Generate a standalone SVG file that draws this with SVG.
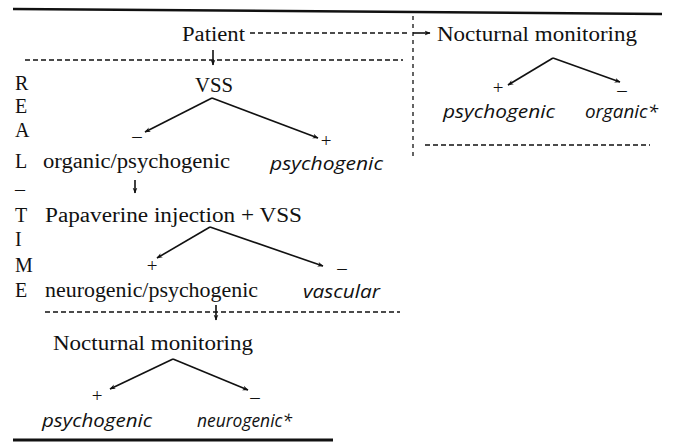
<svg xmlns="http://www.w3.org/2000/svg" width="673" height="446" viewBox="0 0 673 446">
<style>
.t{font-family:"Liberation Serif","Times New Roman",serif;font-size:20px;fill:#111}
.i{font-family:"Open Sans","DejaVu Sans",sans-serif;font-style:italic;font-size:19px;fill:#111}
.s{font-family:"Liberation Serif",serif;font-size:19px;fill:#111;text-anchor:middle}
.a{stroke:#111;stroke-width:1.6;fill:none;marker-end:url(#ah)}
.d{stroke:#111;stroke-width:1.3;fill:none;stroke-dasharray:5 3}
.dv{stroke:#111;stroke-width:1.3;fill:none;stroke-dasharray:4 4}
.r{stroke:#111;fill:none}
</style>
<defs>
<marker id="ah" viewBox="0 0 10 10" refX="9" refY="5" markerWidth="6" markerHeight="6" orient="auto" markerUnits="userSpaceOnUse">
<path d="M0,1 L10,5 L0,9 L3,5 Z" fill="#111"/>
</marker>
</defs>
<rect width="673" height="446" fill="#fff"/>
<g id="rules">
<line class="r" x1="13" y1="9" x2="662" y2="14" stroke-width="2.5"/>
<line class="r" x1="13" y1="440" x2="333" y2="440" stroke-width="3"/>
<line class="dv" x1="413" y1="16" x2="413" y2="158"/>
<line class="d" x1="25" y1="60" x2="403" y2="60"/>
<line class="d" x1="425" y1="145" x2="650" y2="145"/>
<line class="d" x1="45" y1="312" x2="400" y2="312"/>
</g>
<g id="realtime" class="t">
<text x="15" y="90">R</text>
<text x="15" y="113">E</text>
<text x="15" y="137">A</text>
<text x="15" y="168">L</text>
<text x="15" y="196">–</text>
<text x="15" y="222">T</text>
<text x="15" y="246">I</text>
<text x="15" y="272">M</text>
<text x="15" y="297">E</text>
</g>
<g id="patient"><text class="t" x="182" y="41" textLength="63" lengthAdjust="spacingAndGlyphs">Patient</text></g>
<g id="nm-right">
<text class="t" x="437" y="41" textLength="200" lengthAdjust="spacingAndGlyphs">Nocturnal monitoring</text>
<text class="s" x="498" y="94">+</text>
<text class="s" x="622" y="96">–</text>
<text class="i" x="443" y="118" textLength="112" lengthAdjust="spacingAndGlyphs">psychogenic</text>
<text class="i" x="585" y="118" textLength="73" lengthAdjust="spacingAndGlyphs">organic*</text>
</g>
<g id="vss">
<text class="t" x="195" y="92" textLength="38" lengthAdjust="spacingAndGlyphs">VSS</text>
<text class="s" x="137" y="142">–</text>
<text class="s" x="326" y="147">+</text>
<text class="t" x="43" y="168" textLength="187" lengthAdjust="spacingAndGlyphs">organic/psychogenic</text>
<text class="i" x="270" y="170" textLength="113" lengthAdjust="spacingAndGlyphs">psychogenic</text>
</g>
<g id="papaverine">
<text class="t" x="45" y="222" textLength="257" lengthAdjust="spacingAndGlyphs">Papaverine injection + VSS</text>
<text class="s" x="152" y="272">+</text>
<text class="s" x="342" y="274">–</text>
<text class="t" x="45" y="297" textLength="213" lengthAdjust="spacingAndGlyphs">neurogenic/psychogenic</text>
<text class="i" x="303" y="298" textLength="77" lengthAdjust="spacingAndGlyphs">vascular</text>
</g>
<g id="nm-bottom">
<text class="t" x="53" y="350" textLength="200" lengthAdjust="spacingAndGlyphs">Nocturnal monitoring</text>
<text class="s" x="97" y="402">+</text>
<text class="s" x="255" y="403">–</text>
<text class="i" x="42" y="427" textLength="110" lengthAdjust="spacingAndGlyphs">psychogenic</text>
<text class="i" x="197" y="427" textLength="95" lengthAdjust="spacingAndGlyphs">neurogenic*</text>
</g>
<g id="connectors">
<path class="d" d="M250,33 H410"/>
<path class="a" d="M413,33 H430"/>
<path class="a" d="M213,50 V65"/>
<path class="a" d="M212,98 L145,132"/>
<path class="a" d="M212,98 L318,138"/>
<path class="a" d="M553,58 L508,85"/>
<path class="a" d="M553,58 L620,82"/>
<path class="a" d="M135,180 V193"/>
<path class="a" d="M210,227 L157,258"/>
<path class="a" d="M210,227 L323,266"/>
<path class="a" d="M216,305 V320"/>
<path class="a" d="M173,359 L110,389"/>
<path class="a" d="M173,359 L248,390"/>
</g>
</svg>
